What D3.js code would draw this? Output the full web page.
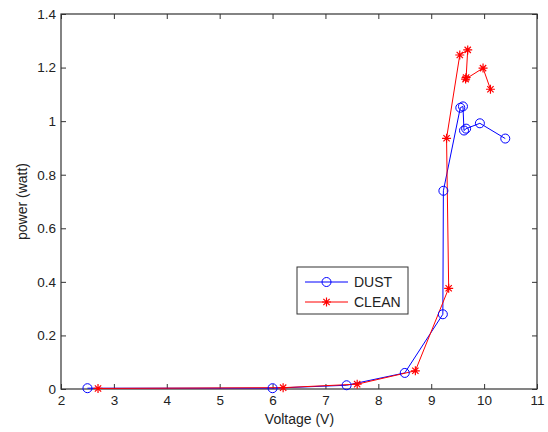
<!DOCTYPE html>
<html><head><meta charset="utf-8">
<script src="https://cdn.jsdelivr.net/npm/d3@7"></script>
<style>body{margin:0;background:#fff}svg{display:block}text{font-family:Arial,"Liberation Sans",sans-serif}</style>
</head><body><svg id="c" width="548" height="432"></svg>
<script>
const dustV = [2.5, 6.0, 7.4, 8.5, 9.22, 9.23, 9.55, 9.6, 9.62, 9.66, 9.92, 10.4];
const dustP = [0.003, 0.003, 0.014, 0.06, 0.279, 0.74, 1.05, 1.055, 0.965, 0.972, 0.992, 0.935];
const cleanV = [2.7, 6.2, 7.6, 8.7, 9.33, 9.29, 9.54, 9.69, 9.66, 9.65, 9.98, 10.12];
const cleanP = [0.002, 0.005, 0.018, 0.068, 0.376, 0.936, 1.247, 1.266, 1.163, 1.157, 1.198, 1.119];
const xTicks = [2,3,4,5,6,7,8,9,10,11];
const yTicks = [0,0.2,0.4,0.6,0.8,1,1.2,1.4];
const seriesNames = ["DUST","CLEAN"];

const svg = d3.select("#c");
const L=61,R=537,T=14,B=389;
const x = d3.scaleLinear().domain([2,11]).range([L,R]);
const y = d3.scaleLinear().domain([0,1.4]).range([B,T]);

svg.append("rect").attr("x",0).attr("y",0).attr("width",548).attr("height",432).attr("fill","#fff");

const gx = svg.append("g").attr("transform",`translate(0,${B})`)
  .call(d3.axisBottom(x).tickValues(xTicks).tickFormat(d3.format("d")).tickSizeInner(-5).tickSizeOuter(0).tickPadding(6));
const gxt = svg.append("g").attr("transform",`translate(0,${T})`)
  .call(d3.axisTop(x).tickValues(xTicks).tickFormat("").tickSizeInner(-5).tickSizeOuter(0));
const gy = svg.append("g").attr("transform",`translate(${L},0)`)
  .call(d3.axisLeft(y).tickValues(yTicks).tickFormat(d=>d3.format("")(+d.toFixed(1))).tickSizeInner(-5).tickSizeOuter(0).tickPadding(5));
const gyr = svg.append("g").attr("transform",`translate(${R},0)`)
  .call(d3.axisRight(y).tickValues(yTicks).tickFormat("").tickSizeInner(-5).tickSizeOuter(0));
[gx,gxt,gy,gyr].forEach(g=>{
  g.selectAll("path.domain").remove();
  g.selectAll("line").attr("stroke","#333");
  g.selectAll("text").attr("font-size","13.5px").attr("fill","#222");
});
svg.append("rect").attr("x",L).attr("y",T).attr("width",R-L).attr("height",B-T)
  .attr("fill","none").attr("stroke","#333").attr("stroke-width",1.2);

svg.append("text").attr("x",(L+R)/2+0.5).attr("y",424).attr("text-anchor","middle").attr("font-size","14px").attr("fill","#222").text("Voltage (V)");
svg.append("text").attr("transform",`translate(27,${(T+B)/2}) rotate(-90)`).attr("text-anchor","middle").attr("font-size","14px").attr("fill","#222").text("power (watt)");

const line = d3.line().x(d=>x(d[0])).y(d=>y(d[1]));
const dust = dustV.map((v,i)=>[v,dustP[i]]);
const clean = cleanV.map((v,i)=>[v,cleanP[i]]);

const plot = svg.append("g");
plot.append("path").datum(dust).attr("d",line).attr("fill","none").attr("stroke","#0000ff").attr("stroke-width",1);
plot.append("path").datum(clean).attr("d",line).attr("fill","none").attr("stroke","#ff0000").attr("stroke-width",1);

function star(g,cx,cy,s){
  const d=`M${cx-s},${cy}L${cx+s},${cy}M${cx},${cy-s}L${cx},${cy+s}M${cx-s*0.7},${cy-s*0.7}L${cx+s*0.7},${cy+s*0.7}M${cx-s*0.7},${cy+s*0.7}L${cx+s*0.7},${cy-s*0.7}`;
  g.append("path").attr("d",d).attr("stroke","#ff0000").attr("stroke-width",1.2).attr("fill","none");
}
plot.selectAll("circle.d").data(dust).enter().append("circle")
  .attr("cx",d=>x(d[0])).attr("cy",d=>y(d[1])).attr("r",4.5)
  .attr("fill","none").attr("stroke","#0000ff").attr("stroke-width",1);
clean.forEach(d=>star(plot,x(d[0]),y(d[1]),4.5));

const lg = svg.append("g");
lg.append("rect").attr("x",297).attr("y",267).attr("width",111).attr("height",47).attr("fill","#fff").attr("stroke","#333").attr("stroke-width",1);
lg.append("line").attr("x1",305).attr("x2",348).attr("y1",282).attr("y2",282).attr("stroke","#0000ff");
lg.append("circle").attr("cx",326.5).attr("cy",282).attr("r",4.5).attr("fill","none").attr("stroke","#0000ff");
lg.append("line").attr("x1",305).attr("x2",348).attr("y1",302).attr("y2",302).attr("stroke","#ff0000");
star(lg,326.5,302,4.5);
lg.append("text").attr("x",354).attr("y",287).attr("font-size","14px").attr("fill","#222").text(seriesNames[0]);
lg.append("text").attr("x",354).attr("y",307).attr("font-size","14px").attr("fill","#222").text(seriesNames[1]);
</script></body></html>
